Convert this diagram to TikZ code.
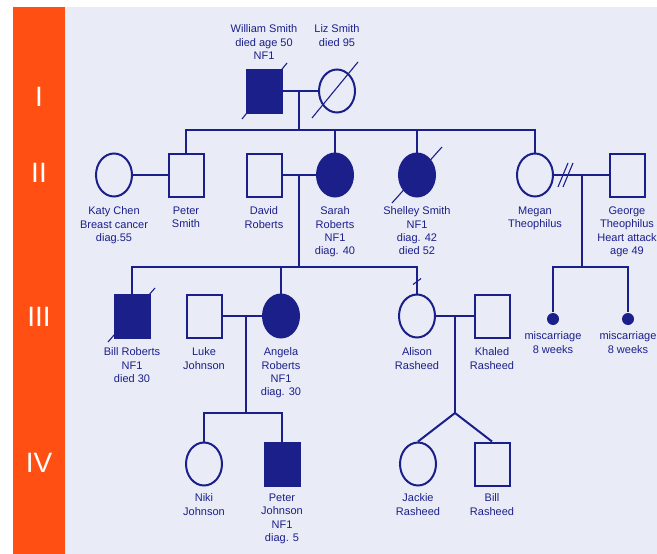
\documentclass[tikz,border=0pt]{standalone}
\usepackage{fontspec}
\setmainfont{Liberation Sans}
\usetikzlibrary{shapes.geometric}
\definecolor{navy}{HTML}{1B1F8A}
\definecolor{bandorange}{HTML}{FF4F12}
\definecolor{paleblue}{HTML}{E9ECF6}
\begin{document}
\begin{tikzpicture}[x=1pt,y=-1pt,line width=2pt,draw=navy,
    male/.style={rectangle, draw=navy, line width=2pt, minimum width=35pt, minimum height=43pt, inner sep=0pt},
    female/.style={ellipse, draw=navy, line width=2pt, minimum width=36pt, minimum height=43pt, inner sep=0pt},
    hit/.style={fill=navy},
    loss/.style={circle, fill=navy, minimum size=12pt, inner sep=0pt},
    dead/.style={line width=1.1pt},
    txt/.style={text=navy, font=\fontsize{11}{13.3}\selectfont, align=center, inner sep=0pt, anchor=north},
    gen/.style={text=white, font=\fontsize{28}{30}\selectfont}]
    \fill[paleblue] (65,7) rectangle (657,554);
    \fill[bandorange] (13,7) rectangle (65,554);
    \useasboundingbox (0,0) rectangle (657,554);

    % generations
    \node[gen] (g1) at (39,97) {I};
    \node[gen] (g2) at (39,173) {II};
    \node[gen] (g3) at (39,317) {III};
    \node[gen] (g4) at (39,463) {IV};

    % I
    \node[male, hit] (ws) at (264,91) {};
    \node[female] (ls) at (337,91) {};
    \node[txt] (wsl) at (264,24) {William Smith\\died age 50\\NF1};
    \node[txt] (lsl) at (337,24) {Liz Smith\\died 95};

    % II
    \node[female] (kc) at (114,175) {};
    \node[male] (ps) at (186,175) {};
    \node[male] (dr) at (264,175) {};
    \node[female, hit] (sr) at (335,175) {};
    \node[female, hit] (ss) at (417,175) {};
    \node[female] (mt) at (535,175) {};
    \node[male] (gt) at (627,175) {};
    \node[txt] (kcl) at (114,206) {Katy Chen\\Breast cancer\\diag.55};
    \node[txt] (psl) at (186,206) {Peter\\Smith};
    \node[txt] (drl) at (264,206) {David\\Roberts};
    \node[txt] (srl) at (335,206) {Sarah\\Roberts\\NF1\\diag. 40};
    \node[txt] (ssl) at (417,206) {Shelley Smith\\NF1\\diag. 42\\died 52};
    \node[txt] (mtl) at (535,206) {Megan\\Theophilus};
    \node[txt] (gtl) at (627,206) {George\\Theophilus\\Heart attack\\age 49};

    % III
    \node[male, hit] (br) at (132,316) {};
    \node[male] (lj) at (204,316) {};
    \node[female, hit] (ar) at (281,316) {};
    \node[female] (alr) at (417,316) {};
    \node[male] (kr) at (492,316) {};
    \node[loss] (m1) at (553,319) {};
    \node[loss] (m2) at (628,319) {};
    \node[txt] (brl) at (132,347) {Bill Roberts\\NF1\\died 30};
    \node[txt] (ljl) at (204,347) {Luke\\Johnson};
    \node[txt] (arl) at (281,347) {Angela\\Roberts\\NF1\\diag. 30};
    \node[txt] (alrl) at (417,347) {Alison\\Rasheed};
    \node[txt] (krl) at (492,347) {Khaled\\Rasheed};
    \node[txt] (m1l) at (553,331) {miscarriage\\8 weeks};
    \node[txt] (m2l) at (628,331) {miscarriage\\8 weeks};

    % IV
    \node[female] (nj) at (204,464) {};
    \node[male, hit] (pj) at (282,464) {};
    \node[female] (jr) at (418,464) {};
    \node[male] (bra) at (492,464) {};
    \node[txt] (njl) at (204,493) {Niki\\Johnson};
    \node[txt] (pjl) at (282,493) {Peter\\Johnson\\NF1\\diag. 5};
    \node[txt] (jrl) at (418,493) {Jackie\\Rasheed};
    \node[txt] (bral) at (492,493) {Bill\\Rasheed};

    % unions and sibships
    \coordinate (u1) at (299,91); \coordinate (s1) at (299,130);
    \coordinate (u2) at (299,175); \coordinate (s2) at (299,267);
    \coordinate (u3) at (582,175); \coordinate (s3) at (582,267);
    \coordinate (u4) at (246,316); \coordinate (s4) at (246,413);
    \coordinate (u5) at (455,316); \coordinate (s5) at (455,413);
    \coordinate (sep) at (565,175);

    \draw (ws) -- (ls);
    \draw (u1) -- (s1);
    \draw (ps.north) |- (mt.north |- s1) -- (mt.north);
    \draw (sr.north) -- (sr.north |- s1);
    \draw (ss.north) -- (ss.north |- s1);

    \draw (kc) -- (ps);
    \draw (dr) -- (sr);
    \draw (u2) -- (s2);
    \draw (br.north) |- (alr.north |- s2) -- (alr.north);
    \draw (ar.north) -- (ar.north |- s2);
    \draw (mt) -- (gt);
    \draw (u3) -- (s3);
    \draw (m1) |- (m2 |- s3) -- (m2);

    \draw (lj) -- (ar);
    \draw (u4) -- (s4);
    \draw (nj.north) |- (pj.north |- s4) -- (pj.north);
    \draw (alr) -- (kr);
    \draw (u5) -- (s5);
    \draw (jr.north) -- (s5) -- (bra.north);

    % marks
    \draw[dead, shift={(ws)}] (-22,28) -- (23,-28);
    \draw[dead, shift={(ls)}] (-25,27) -- (21,-29);
    \draw[dead, shift={(ss)}] (-25,28) -- (25,-28);
    \draw[dead, shift={(br)}] (-24,26) -- (23,-28);
    \draw[dead, shift={(sep)}] (-7,12) -- (3,-12) (-2,12) -- (8,-12);
    \draw[dead, shift={(alr.north)}] (-4,-9) -- (4,-15);
\end{tikzpicture}
\end{document}
